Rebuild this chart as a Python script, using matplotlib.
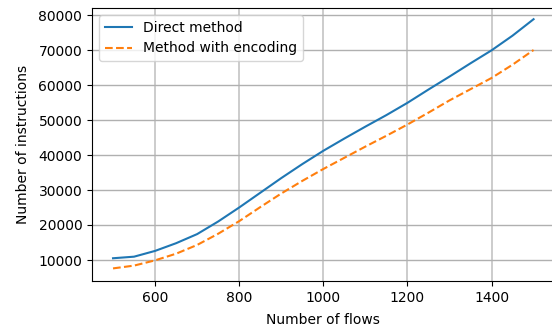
import matplotlib
matplotlib.use("Agg")
import matplotlib.pyplot as plt

flows = [500, 550, 600, 650, 700, 750, 800, 850, 900, 950, 1000,
         1050, 1100, 1150, 1200, 1250, 1300, 1350, 1400, 1450, 1500]
direct = [10500, 10950, 12600, 14800, 17400, 21000, 25000, 29200, 33400, 37400, 41200,
          44700, 48100, 51400, 54900, 58700, 62400, 66200, 69900, 74100, 78800]
encoding = [7600, 8400, 9900, 11800, 14300, 17500, 21100, 25100, 29000, 32600, 36000,
            39200, 42400, 45500, 48700, 52100, 55600, 58800, 62000, 65800, 70000]

fig = plt.figure(figsize=(5.52, 3.26), dpi=100)
ax = fig.add_axes([92 / 552, 45 / 326, (554.6 - 92) / 552, (281 - 8) / 326])
ax.plot(flows, direct, label="Direct method")
ax.plot(flows, encoding, "--", label="Method with encoding")
ax.set_xlim(450, 1550)
ax.set_ylim(4000, 82000)
ax.xaxis.grid(True, color="#cccccc", lw=1.4)
ax.yaxis.grid(True, color="#b0b0b0", lw=1.0)
ax.set_xlabel("Number of flows", labelpad=6)
ax.set_ylabel("Number of instructions", labelpad=6)
ax.legend(loc="upper left")
fig.savefig("out.png", dpi=100)
